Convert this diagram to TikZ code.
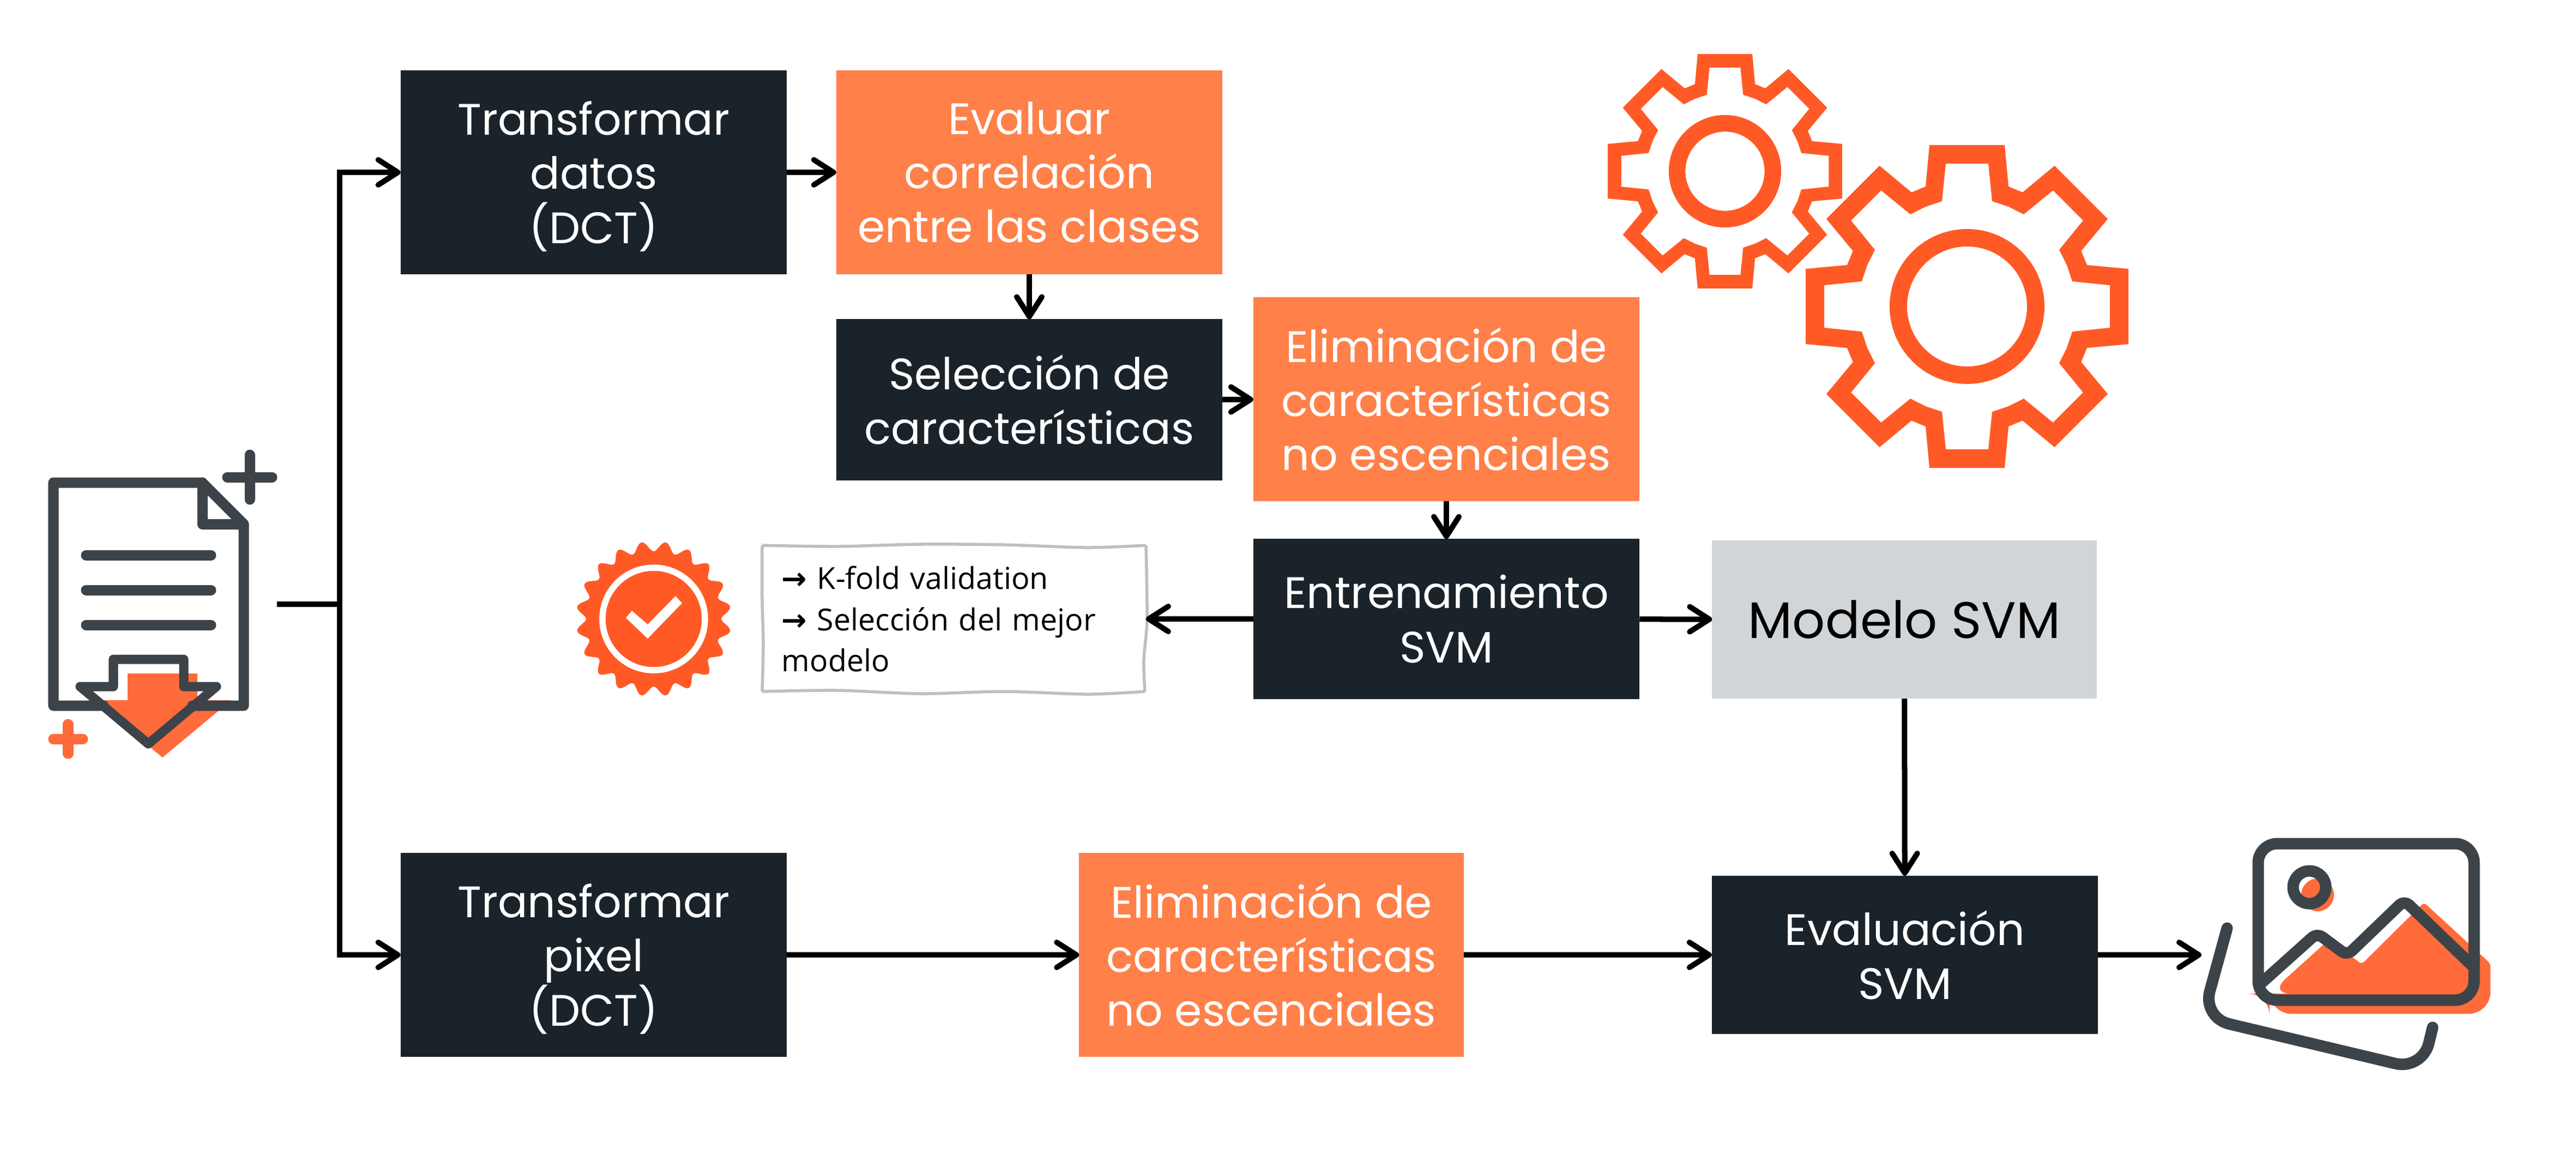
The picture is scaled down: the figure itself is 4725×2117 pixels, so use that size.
\documentclass[tikz,border=0pt]{standalone}
\usepackage{fontspec}
\setmainfont{Poppins}
\newfontfamily\notefont{Open Sans}
\newfontfamily\arrowfont{DejaVu Sans}
\usetikzlibrary{arrows.meta}
\definecolor{darkbox}{HTML}{1A2329}
\definecolor{orangebox}{HTML}{FF8049}
\definecolor{greybox}{HTML}{D1D5D8}
\definecolor{icondark}{HTML}{3C4349}
\definecolor{iconorange}{HTML}{FF6B3A}
\definecolor{gearred}{HTML}{FF5A26}
\tikzset{
    >={Straight Barb[length=.36cm,width=.46cm,round]},
    flow/.style={line width=.1cm},
    flowbox/.style={minimum width=7.08cm,align=center,inner sep=0pt,outer sep=0pt,font=\fontsize{23}{28.2}\selectfont},
    darknode/.style={flowbox,fill=darkbox,text=white},
    orangenode/.style={flowbox,fill=orangebox,text=white},
    greynode/.style={flowbox,fill=greybox,text=black},
    iconline/.style={draw=icondark,line width=.19cm,line cap=round,line join=round},
    imageline/.style={draw=icondark,line width=.21cm,line cap=round,line join=round},
}
\newcommand{\nodepth}[1]{\raisebox{0pt}[\height][0pt]{#1}}
\newcommand{\gearicon}[3]{
    \fill[gearred,even odd rule,shift={(#1)},scale=#2]
        (-76,-220) \foreach \a in {0,-45,...,-315} {
            -- ([rotate=\a]-76,-220) -- ([rotate=\a]-69,-296) -- ([rotate=\a]69,-296) -- ([rotate=\a]76,-220)
        } -- cycle
        (-46,-193) \foreach \a in {0,-45,...,-315} {
            -- ([rotate=\a]-46,-193) -- ([rotate=\a]-39,-262) -- ([rotate=\a]39,-262) -- ([rotate=\a]46,-193) -- ([rotate=\a]76,-183)
        } -- cycle
        (0,0) circle[radius=142] (0,0) circle[radius=#3];
}
\begin{document}
\begin{tikzpicture}[x=.01cm,y=-.01cm]
    \useasboundingbox (0,0) rectangle (4725,2117);
    % boxes
    \node[darknode,minimum height=3.73cm] (transdatos) at (1089,316) {Transformar\\datos\\\nodepth{(DCT)}};
    \node[orangenode,minimum height=3.73cm] (evalcorr) at (1888,316) {Evaluar\\correlación\\entre las clases};
    \node[darknode,minimum height=2.95cm] (selcar) at (1888,733) {Selección de\\características};
    \node[orangenode,minimum height=3.74cm] (elimcar) at (2653,732) {Eliminación de\\características\\no escenciales};
    \node[darknode,minimum height=2.93cm] (entrena) at (2653,1135) {Entrenamiento\\SVM};
    \node[greynode,minimum height=2.9cm,minimum width=7.05cm,font=\fontsize{26.8}{30}\selectfont] (modelo) at (3493,1136) {Modelo SVM};
    \node[darknode,minimum height=3.74cm] (transpixel) at (1089,1751) {Transformar\\pixel\\\nodepth{(DCT)}};
    \node[orangenode,minimum height=3.74cm,minimum width=7.05cm] (elimpixel) at (2332,1751) {Eliminación de\\características\\no escenciales};
    \node[darknode,minimum height=2.9cm] (evalsvm) at (3494,1751) {Evaluación\\SVM};
    % note
    \node[text width=6.3cm,align=left,inner sep=0pt,minimum width=7.04cm,minimum height=2.74cm,font=\notefont\fontsize{15.8}{21.5}\selectfont] (notebox) at (1749,1135)
        {{\arrowfont\bfseries →} K-fold validation\\{\arrowfont\bfseries →} Selección del mejor\\modelo};
    \draw[draw=black!25,line width=.055cm,line join=round]
        plot[smooth] coordinates {(1398,1000) (1536,1002) (1689,998) (1842,999) (1995,1004) (2102,1000)}
        plot[smooth] coordinates {(2102,1000) (2104,1135) (2098,1210) (2100,1268)}
        plot[smooth] coordinates {(2100,1268) (1995,1273) (1842,1268) (1689,1272) (1536,1266) (1398,1268)}
        plot[smooth] coordinates {(1398,1268) (1400,1180) (1398,1100) (1398,1000)};
    % connectors
    \coordinate (docout) at (508,1108);
    \coordinate (trunk) at (623,1108);
    \coordinate (imagein) at (4038,1751);
    \draw[flow] (docout) -- (trunk);
    \draw[flow,->] (trunk) |- (transdatos.west);
    \draw[flow,->] (trunk) |- (transpixel.west);
    \draw[flow,->] (transdatos) -- (evalcorr);
    \draw[flow,->] (evalcorr) -- (selcar);
    \draw[flow,->] (selcar) -- (elimcar);
    \draw[flow,->] (elimcar) -- (entrena);
    \draw[flow,->] (entrena) -- (notebox);
    \draw[flow,->] (entrena) -- (modelo);
    \draw[flow,->] (modelo) -- (evalsvm);
    \draw[flow,->] (transpixel) -- (elimpixel);
    \draw[flow,->] (elimpixel) -- (evalsvm);
    \draw[flow,->] (evalsvm) -- (imagein);
    % gears
    \gearicon{3164,314}{.726}{100}
    \gearicon{3608,562}{1}{110}
    % badge
    \begin{scope}[shift={(1199,1135)}]
        \fill[gearred] plot[domain=0:358,samples=180,smooth cycle] (\x:{133-9*cos(20*\x)});
        \draw[white,line width=.115cm] (0,0) circle[radius=94];
        \fill[white] (-51,-2) -- (-40,-15) -- (-11,10) -- (40,-42) -- (52,-29) -- (-11,36) -- cycle;
    \end{scope}
    % document icon
    \fill[iconorange] (234,1235) -- (362,1235) -- (362,1284) -- (424,1284) -- (298,1389) -- (172,1284) -- (234,1284) -- cycle;
    \draw[iconline] (190,1294) -- (98,1294) -- (98,885) -- (371,885) -- (447,961) -- (447,1294) -- (353,1294);
    \draw[iconline] (371,885) -- (371,961) -- (447,961);
    \draw[iconline] (158,1018) -- (387,1018);
    \draw[iconline] (158,1082) -- (387,1082);
    \draw[iconline] (158,1146) -- (387,1146);
    \draw[iconline,line width=.17cm] (208,1259) -- (208,1209) -- (337,1209) -- (337,1259) -- (397,1259) -- (272,1364) -- (147,1259) -- cycle;
    \draw[iconline] (458,834) -- (458,916);
    \draw[iconline] (417,875) -- (499,875);
    \draw[iconline,draw=iconorange] (125,1328) -- (125,1382);
    \draw[iconline,draw=iconorange] (98,1355) -- (152,1355);
    % image icon
    \fill[iconorange,rounded corners=.06cm] (4162,1822) -- (4272,1723) -- (4332,1768) -- (4446,1655) -- (4568,1767) -- (4568,1817) [rounded corners=.4cm] -- (4568,1859) -- (4163,1859) -- (4163,1822) -- cycle;
    \fill[iconorange] (4251,1641) circle[radius=30];
    \draw[imageline,rounded corners=.35cm] (4142,1547) rectangle (4538,1834);
    \draw[imageline] (4236,1627) circle[radius=30];
    \draw[imageline,rounded corners=.12cm] (4144,1806) -- (4250,1711) -- (4305,1752) -- (4410,1651) -- (4538,1774);
    \draw[imageline,rounded corners=.5cm] (4085,1702) -- (4040,1866) -- (4443,1962) -- (4462,1884);
\end{tikzpicture}
\end{document}
